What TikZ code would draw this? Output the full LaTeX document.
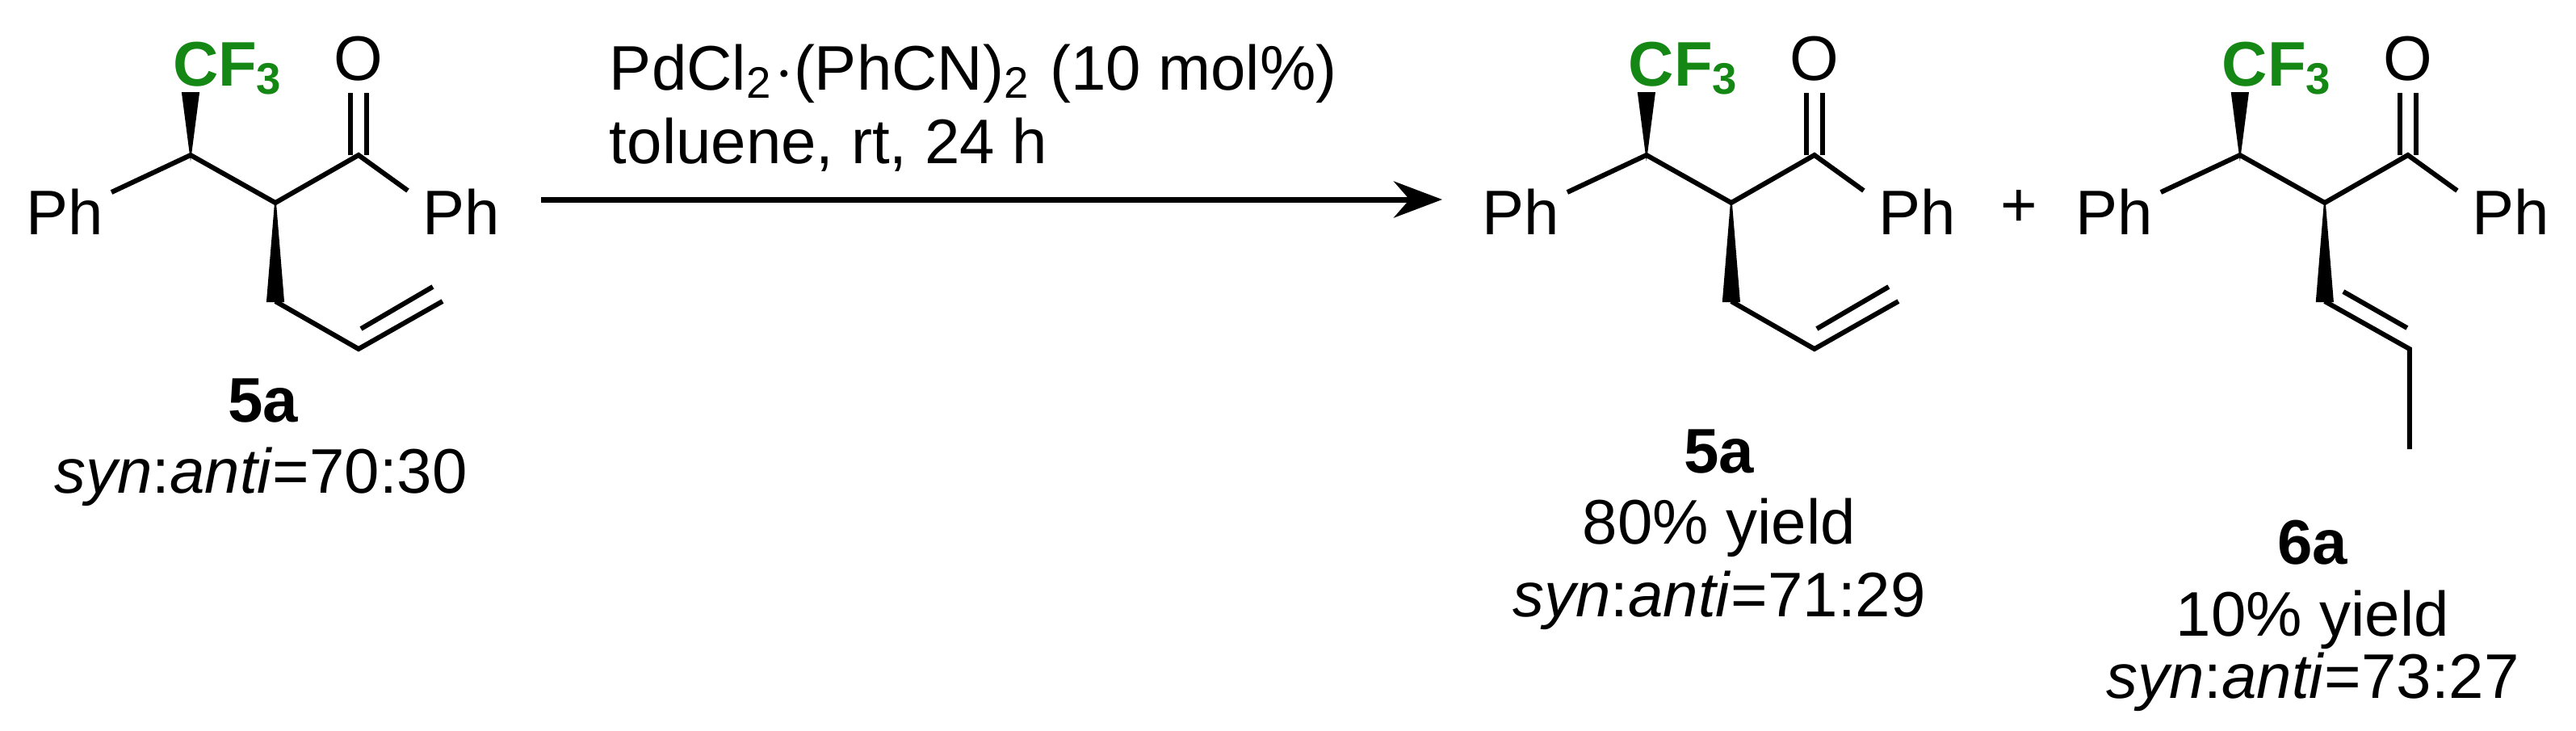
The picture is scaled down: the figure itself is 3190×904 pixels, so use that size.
\documentclass[tikz,border=0pt]{standalone}
\usepackage{fontspec}
\setmainfont{Liberation Sans}
\usetikzlibrary{arrows.meta,calc}
\definecolor{cfgreen}{RGB}{20,135,20}
\tikzset{
  bond/.style={line width=0.6pt},
  wedge/.style={fill=black,draw=black,line width=0.2pt},
  atom/.style={inner sep=0pt,font=\fontsize{7.8}{9}\selectfont},
  lbl/.style={inner sep=0pt,font=\fontsize{7.8}{9}\selectfont,anchor=base},
}
\newcommand{\molcore}[1]{%
  \coordinate (#1c1) at (236,192);
  \coordinate (#1c2) at (341,251);
  \coordinate (#1c3) at (444,192);
  \coordinate (#1pl) at (138,238);
  \coordinate (#1pr) at (505,236);
  \coordinate (#1c4) at (341,373);
  \node[atom,anchor=base west,text=cfgreen,font=\fontsize{7.8}{9}\selectfont\bfseries] (#1cf) at (212,106) {CF\textsubscript{3}};
  \node[atom,anchor=base] (#1ot) at (444,99) {O};
  \node[atom,anchor=base] (#1phl) at (80,290) {Ph};
  \node[atom,anchor=base] (#1phr) at (571,290) {Ph};
  \draw[bond] (#1pl) -- (#1c1) -- (#1c2) -- (#1c3) -- (#1pr);
  \draw[bond] ($(#1c3)+(-10,0)$) -- ($(#1c3)+(-10,-77)$);
  \draw[bond] ($(#1c3)+(10,0)$) -- ($(#1c3)+(10,-77)$);
  \fill[wedge] (#1c1) -- ($(#1c1)+(-10,-77)$) -- ($(#1c1)+(10,-77)$) -- cycle;
  \fill[wedge] (#1c2) -- ($(#1c4)+(-10,0)$) -- ($(#1c4)+(10,0)$) -- cycle;
}
\begin{document}
\begin{tikzpicture}[x=0.1pt,y=-0.1pt]
\useasboundingbox (0,0) rectangle (3190,904);
% reactant 5a
\begin{scope}
  \molcore{a}
  \coordinate (ac5) at (444,432);
  \coordinate (ac6) at (548,373);
  \draw[bond] (ac4) -- (ac5) -- (ac6);
  \draw[bond] (447,407) -- (536,355);
  \node[lbl,font=\fontsize{7.8}{9}\selectfont\bfseries] (al1) at (326,522) {5a};
  \node[lbl] (al2) at (323,610) {\textit{syn}:\textit{anti}=70:30};
\end{scope}
% conditions and arrow
\coordinate (arS) at (670,247);
\coordinate (arE) at (1786,247);
\draw[line width=0.7pt,-{Stealth[length=6pt,width=4.5pt]}] (arS) -- (arE);
\node[atom,anchor=base west] (cond1) at (753,111) {PdCl\textsubscript{2}$\cdot$(PhCN)\textsubscript{2} (10 mol\%)};
\node[atom,anchor=base west] (cond2) at (753,202) {toluene, rt, 24 h};
% product 5a
\begin{scope}[xshift=180.3pt]
  \molcore{b}
  \coordinate (bc5) at (444,432);
  \coordinate (bc6) at (548,373);
  \draw[bond] (bc4) -- (bc5) -- (bc6);
  \draw[bond] (447,407) -- (536,355);
  \node[lbl,font=\fontsize{7.8}{9}\selectfont\bfseries] (bl1) at (326,585) {5a};
  \node[lbl] (bl2) at (326,673) {80\% yield};
  \node[lbl] (bl3) at (326,763) {\textit{syn}:\textit{anti}=71:29};
\end{scope}
\node[atom] (plus) at (2500,258) {+};
% product 6a
\begin{scope}[xshift=253.8pt]
  \molcore{c}
  \coordinate (cc5) at (446,432);
  \coordinate (cc6) at (446,556);
  \draw[bond] (cc4) -- (cc5) -- (cc6);
  \draw[bond] (364,361) -- (443,406);
  \node[lbl,font=\fontsize{7.8}{9}\selectfont\bfseries] (cl1) at (326,698) {6a};
  \node[lbl] (cl2) at (326,787) {10\% yield};
  \node[lbl] (cl3) at (326,864) {\textit{syn}:\textit{anti}=73:27};
\end{scope}
\end{tikzpicture}
\end{document}
